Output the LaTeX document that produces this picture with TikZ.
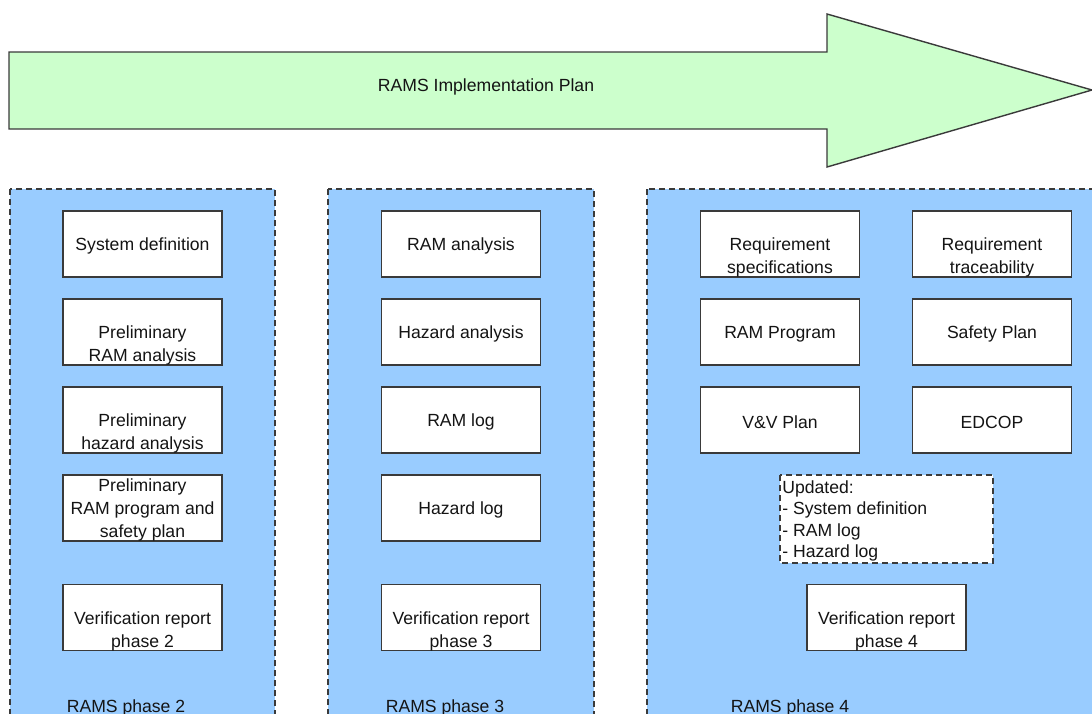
\documentclass[tikz,border=0pt]{standalone}
\usepackage{fontspec}
\setmainfont{Liberation Sans}
\definecolor{plangreen}{HTML}{CCFFCC}
\definecolor{phaseblue}{HTML}{99CCFF}
\definecolor{edge}{HTML}{3A3A3A}
\definecolor{ink}{HTML}{141414}
\tikzset{
  phase/.style={draw=edge, fill=phaseblue, line width=0.7pt, dash pattern=on 3pt off 2pt},
  docbox/.style={draw=edge, fill=white, line width=0.7pt, minimum width=79.5pt, minimum height=33pt, inner sep=0pt},
  doctext/.style={font=\fontsize{8.8pt}{11.5pt}\selectfont, text=ink, align=center, inner sep=0pt, yshift=-1pt},
  notebox/.style={draw=edge, fill=white, line width=0.7pt, dash pattern=on 3pt off 2pt},
  phaselabel/.style={font=\fontsize{8.8pt}{11.5pt}\selectfont, text=ink, inner sep=0pt, yshift=-1pt}
}
\begin{document}
\begin{tikzpicture}[x=0.5pt, y=-0.5pt]
  \useasboundingbox (0,0) rectangle (1092,713);
  \clip (0,0) rectangle (1092,713);

  % plan arrow
  \draw[draw=edge, fill=plangreen, line width=0.7pt]
    (9,52) -- (827,52) -- (827,14) -- (1092,90) -- (827,167) -- (827,129) -- (9,129) -- cycle;
  \node[doctext] (plan) at (486,85) {RAMS Implementation Plan};

  % phase panels
  \draw[phase] (10,189) rectangle (275,740);
  \draw[phase] (328,189) rectangle (594,740);
  \draw[phase] (647,189) rectangle (1110,740);

  % phase 2
  \node[docbox] (sd) at (142.5,244) {};
  \node[doctext] (sdt) at (sd.center) {System definition};
  \node[docbox] (pra) at (142.5,332) {};
  \node[doctext] (prat) at ([yshift=-5.75pt]pra.center) {Preliminary\\RAM analysis};
  \node[docbox] (pha) at (142.5,420) {};
  \node[doctext] (phat) at ([yshift=-5.75pt]pha.center) {Preliminary\\hazard analysis};
  \node[docbox] (prp) at (142.5,508) {};
  \node[doctext] (prpt) at (prp.center) {Preliminary\\RAM program and\\safety plan};
  \node[docbox] (vr2) at (142.5,617.5) {};
  \node[doctext] (vr2t) at ([yshift=-5.75pt]vr2.center) {Verification report\\phase 2};
  \node[phaselabel] (p2) at (126,706) {RAMS phase 2};

  % phase 3
  \node[docbox] (ra) at (461,244) {};
  \node[doctext] (rat) at (ra.center) {RAM analysis};
  \node[docbox] (ha) at (461,332) {};
  \node[doctext] (hat) at (ha.center) {Hazard analysis};
  \node[docbox] (rl) at (461,420) {};
  \node[doctext] (rlt) at (rl.center) {RAM log};
  \node[docbox] (hl) at (461,508) {};
  \node[doctext] (hlt) at (hl.center) {Hazard log};
  \node[docbox] (vr3) at (461,617.5) {};
  \node[doctext] (vr3t) at ([yshift=-5.75pt]vr3.center) {Verification report\\phase 3};
  \node[phaselabel] (p3) at (445,706) {RAMS phase 3};

  % phase 4
  \node[docbox] (rs) at (780,244) {};
  \node[doctext] (rst) at ([yshift=-5.75pt]rs.center) {Requirement\\specifications};
  \node[docbox] (rt) at (992,244) {};
  \node[doctext] (rtt) at ([yshift=-5.75pt]rt.center) {Requirement\\traceability};
  \node[docbox] (rp) at (780,332) {};
  \node[doctext] (rpt) at (rp.center) {RAM Program};
  \node[docbox] (sp) at (992,332) {};
  \node[doctext] (spt) at (sp.center) {Safety Plan};
  \node[docbox] (vv) at (780,420) {};
  \node[doctext] (vvt) at (vv.center) {V\&V Plan};
  \node[docbox] (ed) at (992,420) {};
  \node[doctext] (edt) at (ed.center) {EDCOP};
  \draw[notebox] (780,475) rectangle (993,563);
  \node[anchor=north west, inner sep=0pt, align=left, text=ink,
        font=\fontsize{8.8pt}{10.8pt}\selectfont] (upd) at (782,480)
    {Updated:\\- System definition\\- RAM log\\- Hazard log};
  \node[docbox] (vr4) at (886.5,617.5) {};
  \node[doctext] (vr4t) at ([yshift=-5.75pt]vr4.center) {Verification report\\phase 4};
  \node[phaselabel] (p4) at (790,706) {RAMS phase 4};
\end{tikzpicture}
\end{document}
